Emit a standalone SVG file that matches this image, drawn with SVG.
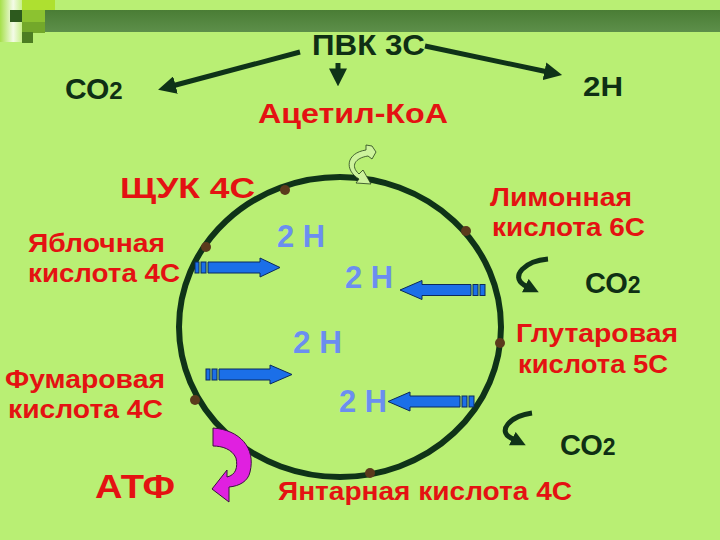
<svg xmlns="http://www.w3.org/2000/svg" width="720" height="540" viewBox="0 0 720 540">
<defs>
<linearGradient id="band" x1="0" y1="0" x2="0" y2="1">
<stop offset="0" stop-color="#4a7d35"/><stop offset="1" stop-color="#5d8f4a"/>
</linearGradient>
<linearGradient id="strip" x1="0" y1="0" x2="1" y2="0">
<stop offset="0" stop-color="#a6e04a"/><stop offset="0.6" stop-color="#f4fbe8"/><stop offset="1" stop-color="#c8f08a"/>
</linearGradient>
<marker id="ah" viewBox="0 0 10 10" refX="2" refY="5" markerWidth="3.6" markerHeight="3.6" orient="auto" markerUnits="strokeWidth">
<path d="M0,0 L10,5 L0,10 z" fill="#0f3318"/>
</marker>
<marker id="ah2" viewBox="0 0 10 10" refX="2" refY="5" markerWidth="3" markerHeight="3" orient="auto" markerUnits="strokeWidth">
<path d="M0,0 L10,5 L0,10 z" fill="#0f3318"/>
</marker>
</defs>
<style>
.dk{font-family:"Liberation Sans",Arial,sans-serif;fill:#0f2f14;font-weight:bold}
.rd{font-family:"Liberation Sans",Arial,sans-serif;fill:#e41212;font-weight:bold}
.bl{font-family:"Liberation Sans",Arial,sans-serif;fill:#6b8ef0;font-weight:bold;font-size:32px}
.ln{stroke:#0f3318;stroke-width:5;fill:none}
.barr{fill:#1b6fe8;stroke:#0b2a5c;stroke-width:1}
.dot{fill:#5b3a1c}
</style>
<rect x="0" y="0" width="720" height="540" fill="#b9ef74"/>
<g id="decor">
<rect x="45" y="10" width="675" height="22" fill="url(#band)"/>
<rect x="0" y="0" width="22" height="42" fill="url(#strip)"/>
<rect x="22" y="0" width="33" height="10" fill="#aee030"/>
<rect x="22" y="10" width="23" height="12" fill="#8cc230"/>
<rect x="22" y="22" width="23" height="11" fill="#73a82a"/>
<rect x="22" y="32" width="11" height="11" fill="#4c7d22"/>
<rect x="10" y="10" width="12" height="12" fill="#2d5a1e"/>
</g>
<g id="cycle">
<ellipse cx="340" cy="327" rx="161" ry="150" fill="none" stroke="#0f3318" stroke-width="6"/>
</g>
<g id="connectors">
<path class="ln" d="M300,52 L172,86" marker-end="url(#ah)" stroke-width="5.5"/>
<path class="ln" d="M425,46 L548,72" marker-end="url(#ah)" stroke-width="5.5"/>
<path class="ln" d="M338,63 L338,72" marker-end="url(#ah)" stroke-width="5.5"/>
<path class="ln" d="M548,259 C525,261 510,276 524,285 L528,287" marker-end="url(#ah2)" stroke-width="6"/>
<path class="ln" d="M532,413 C510,416 497,431 511,438 L515,440" marker-end="url(#ah2)" stroke-width="6"/>
<g id="lightarrow">
<path d="M372,146 L376,152 L372,159 L368,156 C355,158 350,166 359,174 L363,170 L371,184 L356,183 L359,179 C344,170 346,153 366,150 L366,145 z" fill="#cdf39c" stroke="#24401c" stroke-width="0.8"/>
</g>
<g id="atp-arrow">
<path d="M213,428 C240,430 256,448 250,472 C248,481 240,486 229,487 L229,502 L212,489 L227,470 L227,477 C236,475 238,467 236,458 C232,449 222,446 213,446 z" fill="#e020e0" stroke="#3a1040" stroke-width="1"/>
</g>
<g id="blue1">
<rect class="barr" x="195" y="262" width="4" height="11"/><rect class="barr" x="201" y="262" width="5" height="11"/>
<path class="barr" d="M208,262 L260,262 L260,258 L280,267.5 L260,277 L260,273 L208,273 z"/>
</g>
<g id="blue2">
<rect class="barr" x="206" y="369" width="4" height="11"/><rect class="barr" x="212" y="369" width="5" height="11"/>
<path class="barr" d="M219,369 L270,369 L270,365 L292,374.5 L270,384 L270,380 L219,380 z"/>
</g>
<g id="blue3">
<rect class="barr" x="480" y="284.5" width="5" height="11"/><rect class="barr" x="473" y="284.5" width="5" height="11"/>
<path class="barr" d="M471,284.5 L422,284.5 L422,280.5 L400,290 L422,299.5 L422,295.5 L471,295.5 z"/>
</g>
<g id="blue4">
<rect class="barr" x="469" y="396" width="5" height="11"/><rect class="barr" x="462" y="396" width="5" height="11"/>
<path class="barr" d="M460,396 L410,396 L410,392 L388,401.5 L410,411 L410,407 L460,407 z"/>
</g>
</g>
<g id="dots">
<circle class="dot" cx="285" cy="190" r="5"/>
<circle class="dot" cx="466" cy="231" r="5"/>
<circle class="dot" cx="206" cy="247" r="5"/>
<circle class="dot" cx="500" cy="343" r="5"/>
<circle class="dot" cx="195" cy="400" r="5"/>
<circle class="dot" cx="370" cy="473" r="5"/>
</g>
<g id="n-pvk"><text class="dk" x="312" y="55" font-size="30" textLength="113" lengthAdjust="spacingAndGlyphs">ПВК 3С</text></g>
<g id="n-co2a"><text class="dk" x="65" y="99" font-size="30">СО<tspan font-size="24">2</tspan></text></g>
<g id="n-2h"><text class="dk" x="583" y="96" font-size="27" textLength="40" lengthAdjust="spacingAndGlyphs">2Н</text></g>
<g id="n-acetyl"><text class="rd" x="258" y="123" font-size="28" textLength="190" lengthAdjust="spacingAndGlyphs">Ацетил-КоА</text></g>
<g id="n-shuk"><text class="rd" x="120" y="198" font-size="29" textLength="135" lengthAdjust="spacingAndGlyphs">ЩУК 4С</text></g>
<g id="n-limon"><text class="rd" x="490" y="206" font-size="25" textLength="142" lengthAdjust="spacingAndGlyphs">Лимонная</text><text class="rd" x="492" y="236" font-size="25" textLength="153" lengthAdjust="spacingAndGlyphs">кислота 6С</text></g>
<g id="n-yabl"><text class="rd" x="28" y="252" font-size="25" textLength="137" lengthAdjust="spacingAndGlyphs">Яблочная</text><text class="rd" x="28" y="282" font-size="25" textLength="152" lengthAdjust="spacingAndGlyphs">кислота 4С</text></g>
<g id="n-co2b"><text class="dk" x="585" y="293" font-size="29">СО<tspan font-size="23">2</tspan></text></g>
<g id="n-glut"><text class="rd" x="516" y="342" font-size="25" textLength="162" lengthAdjust="spacingAndGlyphs">Глутаровая</text><text class="rd" x="518" y="373" font-size="25" textLength="150" lengthAdjust="spacingAndGlyphs">кислота 5С</text></g>
<g id="n-fum"><text class="rd" x="5" y="388" font-size="25" textLength="160" lengthAdjust="spacingAndGlyphs">Фумаровая</text><text class="rd" x="8" y="418" font-size="25" textLength="155" lengthAdjust="spacingAndGlyphs">кислота 4С</text></g>
<g id="n-co2c"><text class="dk" x="560" y="455" font-size="29">СО<tspan font-size="23">2</tspan></text></g>
<g id="n-atf"><text class="rd" x="95" y="498" font-size="34" textLength="80" lengthAdjust="spacingAndGlyphs">АТФ</text></g>
<g id="n-yantar"><text class="rd" x="278" y="500" font-size="25" textLength="294" lengthAdjust="spacingAndGlyphs">Янтарная кислота 4С</text></g>
<g id="h1"><text class="bl" x="277" y="247" textLength="48" lengthAdjust="spacingAndGlyphs">2 Н</text></g>
<g id="h2"><text class="bl" x="345" y="288" textLength="48" lengthAdjust="spacingAndGlyphs">2 Н</text></g>
<g id="h3"><text class="bl" x="293" y="353" textLength="49" lengthAdjust="spacingAndGlyphs">2 Н</text></g>
<g id="h4"><text class="bl" x="339" y="412" textLength="48" lengthAdjust="spacingAndGlyphs">2 Н</text></g>
</svg>
